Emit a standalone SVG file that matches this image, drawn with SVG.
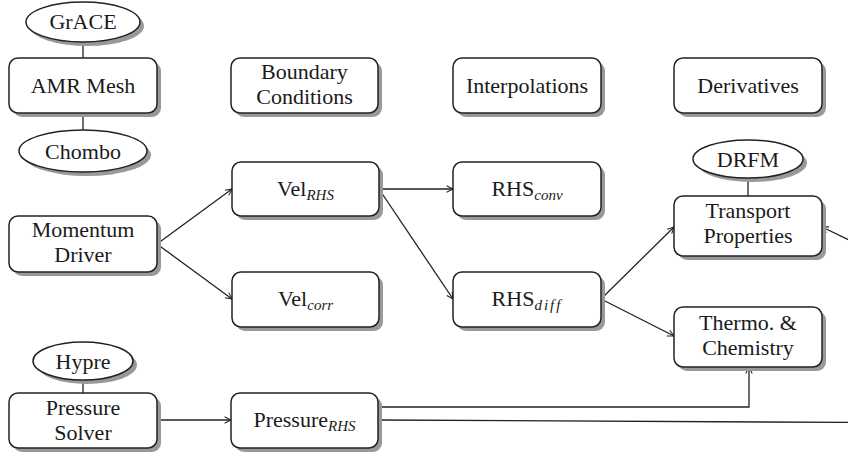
<svg xmlns="http://www.w3.org/2000/svg" width="848" height="458" viewBox="0 0 848 458">
<style>
.box{fill:#fff;stroke:#222;stroke-width:1.5}
.sh{fill:#999;stroke:none}
text{font-family:"Times New Roman",Times,"Liberation Serif","DejaVu Serif","Noto Serif",serif;font-size:22px;fill:#1a1a1a;text-anchor:middle}
.s{font-style:italic;font-size:15px}
.c{fill:none;stroke:#222;stroke-width:1.3}
</style>
<defs>
<marker id="ar" viewBox="0 0 10 10" refX="9" refY="5" markerWidth="8" markerHeight="8" markerUnits="userSpaceOnUse" orient="auto">
<path d="M1,1 L9,5 L1,9" fill="none" stroke="#222" stroke-width="1.3"/>
</marker>
</defs>
<rect width="848" height="458" fill="#fff"/>
<g id="connectors">
<line class="c" x1="83" y1="42" x2="83" y2="58"/>
<line class="c" x1="83" y1="113" x2="83" y2="130"/>
<line class="c" x1="83" y1="380" x2="83" y2="393"/>
<line class="c" x1="748" y1="178" x2="748" y2="196"/>
<line class="c" x1="157" y1="244" x2="232" y2="189" marker-end="url(#ar)"/>
<line class="c" x1="157" y1="244" x2="232" y2="299" marker-end="url(#ar)"/>
<line class="c" x1="379" y1="189" x2="453" y2="189" marker-end="url(#ar)"/>
<line class="c" x1="379" y1="189" x2="453" y2="299" marker-end="url(#ar)"/>
<line class="c" x1="601" y1="299" x2="674" y2="227" marker-end="url(#ar)"/>
<line class="c" x1="601" y1="299" x2="674" y2="336" marker-end="url(#ar)"/>
<line class="c" x1="870" y1="250" x2="822" y2="227" marker-end="url(#ar)"/>
<line class="c" x1="157" y1="420" x2="231" y2="420" marker-end="url(#ar)"/>
<polyline class="c" points="378,407 749,407 749,367" marker-end="url(#ar)"/>
<line class="c" x1="378" y1="420" x2="860" y2="422.5"/>
</g>
<g id="grace"><ellipse class="sh" cx="87" cy="26" rx="57" ry="20"/><ellipse class="box" cx="83" cy="22" rx="57" ry="20"/><text x="83" y="29">GrACE</text></g>
<g id="amr"><rect class="sh" x="13" y="62" width="148" height="55" rx="9"/><rect class="box" x="9" y="58" width="148" height="55" rx="9"/><text x="83" y="93">AMR Mesh</text></g>
<g id="chombo"><ellipse class="sh" cx="87" cy="155" rx="64" ry="21"/><ellipse class="box" cx="83" cy="151" rx="64" ry="21"/><text x="83" y="158.5">Chombo</text></g>
<g id="bc"><rect class="sh" x="235" y="62" width="147" height="55" rx="9"/><rect class="box" x="231" y="58" width="147" height="55" rx="9"/><text x="304.5" y="79">Boundary</text><text x="304.5" y="104">Conditions</text></g>
<g id="interp"><rect class="sh" x="457" y="62" width="148" height="55" rx="9"/><rect class="box" x="453" y="58" width="148" height="55" rx="9"/><text x="527" y="93">Interpolations</text></g>
<g id="deriv"><rect class="sh" x="678" y="62" width="148" height="55" rx="9"/><rect class="box" x="674" y="58" width="148" height="55" rx="9"/><text x="748" y="93">Derivatives</text></g>
<g id="momentum"><rect class="sh" x="13" y="220" width="148" height="56" rx="9"/><rect class="box" x="9" y="216" width="148" height="56" rx="9"/><text x="83" y="237">Momentum</text><text x="83" y="262">Driver</text></g>
<g id="velrhs"><rect class="sh" x="236" y="166" width="147" height="54" rx="9"/><rect class="box" x="232" y="162" width="147" height="54" rx="9"/><text x="305.5" y="196">Vel<tspan class="s" dy="4">RHS</tspan></text></g>
<g id="velcorr"><rect class="sh" x="236" y="276" width="147" height="55" rx="9"/><rect class="box" x="232" y="272" width="147" height="55" rx="9"/><text x="305.5" y="306">Vel<tspan class="s" dy="4">corr</tspan></text></g>
<g id="rhsconv"><rect class="sh" x="457" y="166" width="148" height="54" rx="9"/><rect class="box" x="453" y="162" width="148" height="54" rx="9"/><text x="527" y="196">RHS<tspan class="s" dy="4">conv</tspan></text></g>
<g id="rhsdiff"><rect class="sh" x="457" y="276" width="148" height="55" rx="9"/><rect class="box" x="453" y="272" width="148" height="55" rx="9"/><text x="527" y="306">RHS<tspan class="s" dy="4" letter-spacing="2">diff</tspan></text></g>
<g id="drfm"><ellipse class="sh" cx="752" cy="163" rx="55" ry="19"/><ellipse class="box" cx="748" cy="159" rx="55" ry="19"/><text x="748" y="166.5">DRFM</text></g>
<g id="transport"><rect class="sh" x="678" y="200" width="148" height="60" rx="9"/><rect class="box" x="674" y="196" width="148" height="60" rx="9"/><text x="748" y="218">Transport</text><text x="748" y="243">Properties</text></g>
<g id="thermo"><rect class="sh" x="678" y="311" width="148" height="60" rx="9"/><rect class="box" x="674" y="307" width="148" height="60" rx="9"/><text x="748" y="330">Thermo. &amp;</text><text x="748" y="355">Chemistry</text></g>
<g id="hypre"><ellipse class="sh" cx="87" cy="365" rx="50" ry="19"/><ellipse class="box" cx="83" cy="361" rx="50" ry="19"/><text x="83" y="368.5">Hypre</text></g>
<g id="psolver"><rect class="sh" x="13" y="397" width="148" height="55" rx="9"/><rect class="box" x="9" y="393" width="148" height="55" rx="9"/><text x="83" y="415">Pressure</text><text x="83" y="440">Solver</text></g>
<g id="prhs"><rect class="sh" x="235" y="397" width="147" height="55" rx="9"/><rect class="box" x="231" y="393" width="147" height="55" rx="9"/><text x="304.5" y="427">Pressure<tspan class="s" dy="4">RHS</tspan></text></g>
</svg>
